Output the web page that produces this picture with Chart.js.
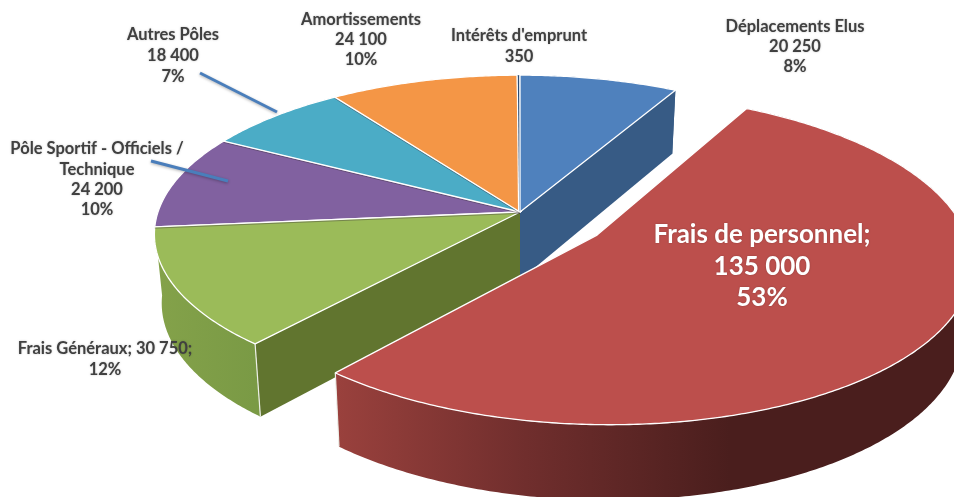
<!DOCTYPE html>
<html><head><meta charset="utf-8">
<style>html,body{margin:0;padding:0;background:#fff}canvas{display:block}</style>
<script src="https://cdn.jsdelivr.net/npm/chart.js@4"></script>
</head><body><canvas id="c" width="954" height="497"></canvas>
<script>
const categories = ["Déplacements Elus","Frais de personnel","Frais Généraux","Pôle Sportif - Officiels / Technique","Autres Pôles","Amortissements","Intérêts d'emprunt"];
const values = [20250,135000,30750,24200,18400,24100,350];
const explode = [0,56,0,0,0,0,0];
const labelLines = [
  ["Déplacements Elus","20 250","8%"],
  ["Frais de personnel;","135 000","53%"],
  ["Frais Généraux; 30 750;","12%"],
  ["Pôle Sportif - Officiels /","Technique","24 200","10%"],
  ["Autres Pôles","18 400","7%"],
  ["Amortissements","24 100","10%"],
  ["Intérêts d'emprunt","350"]
];
const topColors = ["#4f81bd","#bc4f4c","#9bbb59","#8161a0","#4bacc6","#f49646","#2c4d75"];
const faceColors = ["#375b85","#8a3835","#61752f","#5a4470","#347a8c","#ad6931","#1f3652"];
const wallStops = [
  [[0,"#375b85"],[1,"#375b85"]],
  [[0,"#9a413d"],[0.3,"#702e2d"],[0.62,"#4a1e1d"],[1,"#4a1e1d"]],
  [[0,"#84a24a"],[1,"#7a9a45"]],
  [[0,"#5a4470"],[1,"#5a4470"]],
  [[0,"#347a8c"],[1,"#347a8c"]],
  [[0,"#ad6931"],[1,"#ad6931"]],
  [[0,"#1f3652"],[1,"#1f3652"]]
];
const topOrder = [3,4,5,6,0,2];
const wallOrder = [6,0,2];
const explodedOrder = [1];
const creased = [3,4,5];
const labelAnchors = [[795,27,20],[762,235,31.5],[105,349,21],[97,149,20.3],[173,35,21],[361,20,20],[519,36,21]];
const leaders = [[200,73,277,112],[151,161,228,181]];

const view = {cx:520, cy:212, rx:362, ry:156, k:0.14, depth:68, converge:0.02};
function project(u,v,z){
  const w = 1 - view.k*v;
  return {
    x: view.cx + view.rx*u/w*(1 - view.converge*z),
    y: view.cy + view.ry*v/w + z*view.depth/Math.pow(w,0.6)
  };
}
function polygon(ctx,pts){
  ctx.beginPath();
  pts.forEach((p,i)=> i ? ctx.lineTo(p.x,p.y) : ctx.moveTo(p.x,p.y));
  ctx.closePath();
}
function seg(ctx,a,b,color,width){
  ctx.beginPath(); ctx.moveTo(a.x,a.y); ctx.lineTo(b.x,b.y);
  ctx.strokeStyle=color; ctx.lineWidth=width; ctx.stroke();
}
function geometry(el){
  const R = el.outerRadius, a0 = el.startAngle, a1 = el.endAngle;
  const mid = (a0+a1)/2, e = (el.options.offset||0)/R;
  const ou = e*Math.cos(mid), ov = e*Math.sin(mid);
  const n = Math.max(2,Math.ceil((a1-a0)/0.01));
  const rimTop=[], rimBot=[];
  for(let s=0;s<=n;s++){
    const a = a0+(a1-a0)*s/n, u = ou+Math.cos(a), v = ov+Math.sin(a);
    rimTop.push(project(u,v,0)); rimBot.push(project(u,v,1));
  }
  return {a0,a1,ou,ov,n,rimTop,rimBot,apexT:project(ou,ov,0),apexB:project(ou,ov,1)};
}
function faceVisible(g,corner){
  const d = {x:corner.x-g.apexT.x, y:corner.y-g.apexT.y};
  const m = g.rimTop[Math.floor(g.n/2)];
  const inner = d.x*(m.y-g.apexT.y) - d.y*(m.x-g.apexT.x);
  return inner*d.x < 0;
}
function drawWalls(ctx,g,i){
  const {a0,a1,ov,n,rimTop,rimBot,apexT,apexB} = g;
  [[rimTop[0],rimBot[0]],[rimTop[n],rimBot[n]]].forEach(f=>{
    if(!faceVisible(g,f[0])) return;
    polygon(ctx,[apexT,f[0],f[1],apexB]);
    ctx.fillStyle = faceColors[i]; ctx.fill();
  });
  const xs = rimTop.map(p=>p.x);
  const front = rimTop.filter((p,s)=>Math.sin(a0+(a1-a0)*s/n)+ov>0.1).map(p=>p.x);
  const fx = front.length?front:xs;
  const grad = ctx.createLinearGradient(Math.min(...fx),0,Math.max(...fx),0);
  wallStops[i].forEach(s=>grad.addColorStop(s[0],s[1]));
  polygon(ctx,rimTop.concat(rimBot.slice().reverse()));
  ctx.fillStyle = grad; ctx.fill();
  [[0,a0],[n,a1]].forEach(c=>{
    if(Math.sin(c[1])+ov>0.3 && a1-a0>0.05) seg(ctx,rimTop[c[0]],rimBot[c[0]],'#eef0ea',1.2);
  });
  if(a1-a0<0.05){
    seg(ctx,apexT,apexB,'#ffffff',3.4);
    seg(ctx,apexT,apexB,'#3a3228',1.2);
  }
}
function drawTop(ctx,g,i){
  polygon(ctx,[g.apexT].concat(g.rimTop));
  ctx.fillStyle = topColors[i]; ctx.fill();
  if(g.a1-g.a0<0.05){
    seg(ctx,g.apexT,g.rimTop[1],'#ffffff',4);
    seg(ctx,g.apexT,g.rimTop[1],topColors[i],1.6);
  } else {
    ctx.strokeStyle = '#ffffff'; ctx.lineWidth = 1.3; ctx.stroke();
  }
}
const pie3d = {
  id:'pie3d',
  beforeDatasetDraw(){ return false; },
  afterDatasetsDraw(chart){
    const ctx = chart.ctx, meta = chart.getDatasetMeta(0);
    ctx.save();
    ctx.lineJoin = 'round';
    const geo = meta.data.map(geometry);
    wallOrder.forEach(i=>drawWalls(ctx,geo[i],i));
    topOrder.forEach(i=>drawTop(ctx,geo[i],i));
    creased.forEach(i=>{
      const a = geo[i].apexT, b = geo[i].rimTop[0];
      seg(ctx,{x:a.x,y:a.y+1.3},{x:b.x,y:b.y+1.3},'rgba(60,50,60,.5)',0.8);
    });
    explodedOrder.forEach(i=>{ drawWalls(ctx,geo[i],i); drawTop(ctx,geo[i],i); });
    leaders.forEach(l=>{
      ctx.save();
      ctx.shadowColor='rgba(0,0,0,.3)'; ctx.shadowBlur=3; ctx.shadowOffsetY=1;
      seg(ctx,{x:l[0],y:l[1]},{x:l[2],y:l[3]},'#4a7ebb',3);
      ctx.restore();
    });
    ctx.textAlign='center'; ctx.textBaseline='middle';
    labelLines.forEach((lines,i)=>{
      const a = labelAnchors[i], big = i===1;
      ctx.font = (big?'bold 26px':'bold 16.5px')+' Lato, "Open Sans", sans-serif';
      ctx.fillStyle = big?'#ffffff':'#404040';
      ctx.shadowColor = 'rgba(0,0,0,.25)'; ctx.shadowBlur = 2;
      lines.forEach((t,j)=>ctx.fillText(t,a[0],a[1]+j*a[2]));
    });
    ctx.restore();
  }
};
new Chart(document.getElementById('c'),{
  type:'pie',
  data:{labels:categories,datasets:[{data:values,backgroundColor:topColors,offset:explode,borderWidth:0}]},
  options:{responsive:false,animation:false,devicePixelRatio:1,events:[],
    plugins:{legend:{display:false},tooltip:{enabled:false}}},
  plugins:[pie3d]
});
</script></body></html>
